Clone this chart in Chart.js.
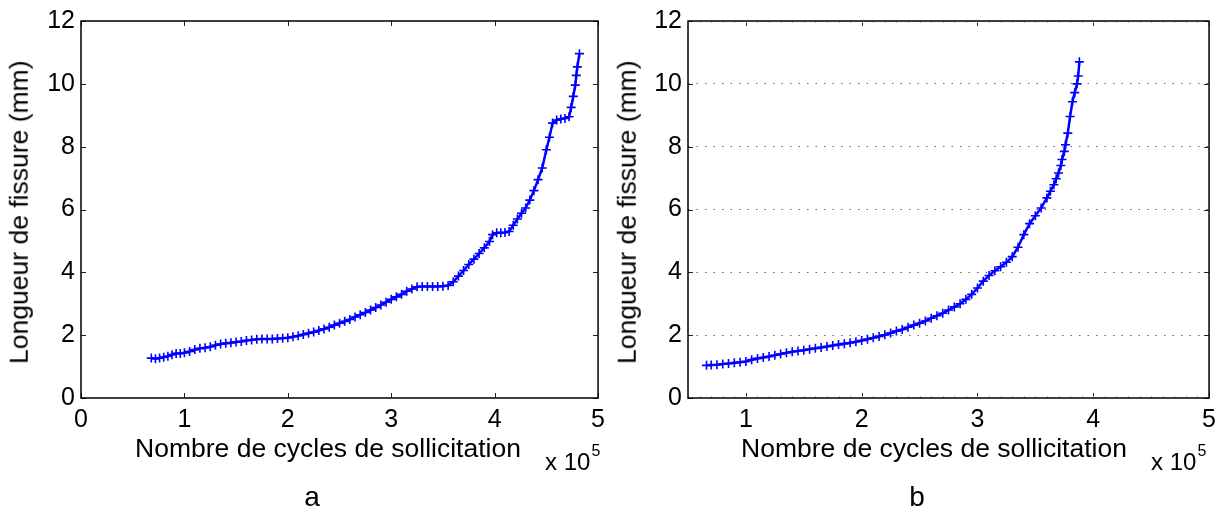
<!DOCTYPE html>
<html>
<head>
<meta charset="utf-8">
<script src="https://cdn.jsdelivr.net/npm/chart.js@4.4.1/dist/chart.umd.min.js"></script>
<style>
  body { margin: 0; background: #fff; width: 1223px; height: 510px; position: relative; overflow: hidden;
         font-family: "Liberation Sans", Helvetica, Arial, sans-serif; color: #000; }
  canvas { position: absolute; top: 0; }
  .lbl { position: absolute; white-space: nowrap; line-height: 1; }
  .xt { font-size: 26.5px; width: 400px; text-align: center; top: 435px; }
  .yt { font-size: 26.5px; width: 400px; text-align: center; top: 199px; transform: rotate(-90deg); }
  .mul { font-size: 24px; top: 450px; }
  .mul span { font-size: 16px; position: relative; top: -14px; margin-left: 1px; }
  .cap { font-size: 28px; top: 483px; width: 40px; text-align: center; }
</style>
</head>
<body>
<canvas id="chartA" width="612" height="510" style="left:0"></canvas>
<canvas id="chartB" width="612" height="510" style="left:611px"></canvas>

<div class="lbl yt" style="left:-181px">Longueur de fissure (mm)</div>
<div class="lbl yt" style="left:427px">Longueur de fissure (mm)</div>
<div class="lbl xt" style="left:128px">Nombre de cycles de sollicitation</div>
<div class="lbl xt" style="left:734px">Nombre de cycles de sollicitation</div>
<div class="lbl mul" style="left:545px">x 10<span>5</span></div>
<div class="lbl mul" style="left:1151px">x 10<span>5</span></div>
<div class="lbl cap" style="left:292px">a</div>
<div class="lbl cap" style="left:897px">b</div>

<script>
// essai a : nombre de cycles (x 10^5) / longueur de fissure (mm)
const cyclesA = [0.68,0.72,0.76,0.80,0.84,0.88,0.92,0.96,1.00,1.05,1.10,1.15,1.20,1.25,1.30,1.35,1.40,1.45,1.50,1.55,
  1.60,1.65,1.70,1.75,1.80,1.85,1.90,1.95,2.00,2.05,2.10,2.15,2.20,2.25,2.30,2.35,2.40,2.45,2.50,2.55,
  2.60,2.65,2.70,2.75,2.80,2.85,2.90,2.95,3.00,3.05,3.10,3.15,3.20,3.25,3.30,3.35,3.40,3.45,3.50,3.55,
  3.60,3.65,3.70,3.75,3.80,3.85,3.90,3.95,3.98,4.02,4.06,4.10,4.14,4.18,4.22,4.26,4.30,4.34,4.38,4.42,
  4.46,4.50,4.53,4.56,4.60,4.64,4.68,4.72,4.74,4.76,4.78,4.79,4.80,4.82];
const lengthA = [1.27,1.25,1.27,1.30,1.33,1.38,1.42,1.42,1.44,1.48,1.54,1.58,1.60,1.63,1.68,1.72,1.74,1.76,1.78,1.80,
  1.83,1.85,1.87,1.88,1.88,1.88,1.89,1.90,1.92,1.95,1.98,2.02,2.06,2.10,2.15,2.20,2.25,2.32,2.38,2.44,
  2.50,2.58,2.65,2.72,2.80,2.88,2.96,3.05,3.14,3.22,3.30,3.40,3.47,3.54,3.55,3.55,3.55,3.55,3.56,3.58,
  3.70,3.88,4.06,4.25,4.42,4.60,4.78,4.98,5.20,5.26,5.26,5.27,5.30,5.50,5.70,5.88,6.05,6.30,6.60,6.95,
  7.32,7.90,8.30,8.75,8.85,8.88,8.90,8.95,9.25,9.60,9.96,10.27,10.54,10.96];

// essai b
const cyclesB = [0.66,0.70,0.75,0.80,0.85,0.90,0.95,1.00,1.05,1.10,1.15,1.20,1.25,1.30,1.35,1.40,1.45,1.50,1.55,1.60,
  1.65,1.70,1.75,1.80,1.85,1.90,1.95,2.00,2.05,2.10,2.15,2.20,2.25,2.30,2.35,2.40,2.45,2.50,2.55,2.60,
  2.65,2.70,2.75,2.80,2.85,2.90,2.95,3.00,3.05,3.10,3.15,3.20,3.25,3.30,3.35,3.40,3.45,3.50,3.55,3.60,
  3.63,3.66,3.68,3.70,3.72,3.73,3.75,3.76,3.78,3.80,3.82,3.84,3.86,3.87,3.88];
const lengthB = [1.04,1.05,1.06,1.08,1.10,1.12,1.14,1.16,1.22,1.26,1.29,1.32,1.36,1.40,1.44,1.47,1.50,1.52,1.55,1.58,
  1.61,1.64,1.67,1.70,1.73,1.76,1.79,1.83,1.87,1.92,1.96,2.01,2.07,2.13,2.18,2.25,2.32,2.38,2.45,2.54,
  2.62,2.70,2.80,2.90,3.00,3.14,3.30,3.50,3.72,3.90,4.05,4.18,4.32,4.50,4.80,5.20,5.55,5.80,6.05,6.37,
  6.58,6.79,6.98,7.16,7.40,7.59,7.85,8.06,8.43,8.96,9.43,9.72,10.00,10.25,10.70];

const xTicksA = [0, 1, 2, 3, 4, 5];
const xTicksB = [1, 2, 3, 4, 5];
const yTicks = [0, 2, 4, 6, 8, 10, 12];

const FONT = { family: '"Liberation Sans", Helvetica, Arial, sans-serif', size: 25 };

// cadre + graduations vers l'interieur, comme matlab
const boxTicks = {
  id: 'boxTicks',
  afterDraw(chart, args, opts) {
    const { ctx, chartArea: a, scales: { x, y } } = chart;
    ctx.save();
    ctx.strokeStyle = '#222';
    ctx.lineWidth = 1;
    ctx.beginPath();
    x.ticks.forEach(t => {
      const px = Math.round(x.getPixelForValue(t.value)) + 0.5;
      ctx.moveTo(px, a.bottom); ctx.lineTo(px, a.bottom - 5);
      ctx.moveTo(px, a.top); ctx.lineTo(px, a.top + 5);
    });
    y.ticks.forEach(t => {
      const py = Math.round(y.getPixelForValue(t.value)) + 0.5;
      ctx.moveTo(a.left, py); ctx.lineTo(a.left + 5, py);
      ctx.moveTo(a.right, py); ctx.lineTo(a.right - 5, py);
    });
    ctx.stroke();
    if (opts.minor) {
      ctx.strokeStyle = '#aaa';
      ctx.beginPath();
      for (let v = Math.ceil(x.min * 10); v <= x.max * 10; v++) {
        const px = Math.round(x.getPixelForValue(v / 10)) + 0.5;
        ctx.moveTo(px, a.bottom); ctx.lineTo(px, a.bottom - 2);
        ctx.moveTo(px, a.top); ctx.lineTo(px, a.top + 2);
      }
      ctx.stroke();
    }
    ctx.strokeStyle = '#000';
    ctx.lineWidth = 1.5;
    ctx.strokeRect(a.left, a.top, a.right - a.left, a.bottom - a.top);
    ctx.restore();
  }
};

function makeChart(id, xs, ys, xMin, xTicks, yWidth, rightPad, dotted) {
  const pts = xs.map((v, i) => ({ x: v, y: ys[i] }));
  return new Chart(id, {
    type: 'scatter',
    data: {
      datasets: [{
        data: pts,
        showLine: true,
        borderColor: '#0000ff',
        borderWidth: 2.5,
        pointStyle: 'cross',
        pointRadius: 4.5,
        pointBorderWidth: 1.6,
        pointBorderColor: '#0000ff'
      }]
    },
    options: {
      responsive: false,
      animation: false,
      devicePixelRatio: 1,
      layout: { padding: { left: 0, right: rightPad, top: 19, bottom: 0 } },
      plugins: { legend: { display: false }, tooltip: { enabled: false }, boxTicks: { minor: dotted } },
      scales: {
        x: {
          type: 'linear', min: xMin, max: 5,
          afterBuildTicks: s => { s.ticks = xTicks.map(v => ({ value: v })); },
          afterFit: s => { s.height = 112; },
          grid: { display: false, drawTicks: false },
          border: { display: false },
          ticks: { font: FONT, color: '#000', padding: 7, maxRotation: 0 }
        },
        y: {
          type: 'linear', min: 0, max: 12,
          afterBuildTicks: s => { s.ticks = yTicks.map(v => ({ value: v })); },
          afterFit: s => { s.width = yWidth; },
          grid: {
            display: dotted, drawTicks: false,
            color: c => (c.tick && c.tick.value > 0 && c.tick.value < 12) ? '#666' : 'rgba(0,0,0,0)',
            lineWidth: 1
          },
          border: { display: false, dash: [1.5, 7] },
          ticks: { font: FONT, color: '#000', padding: 6 }
        }
      }
    },
    plugins: [boxTicks]
  });
}

makeChart('chartA', cyclesA, lengthA, 0, xTicksA, 81, 8, false);
makeChart('chartB', cyclesB, lengthB, 0.5, xTicksB, 77, 13, true);
</script>
</body>
</html>
